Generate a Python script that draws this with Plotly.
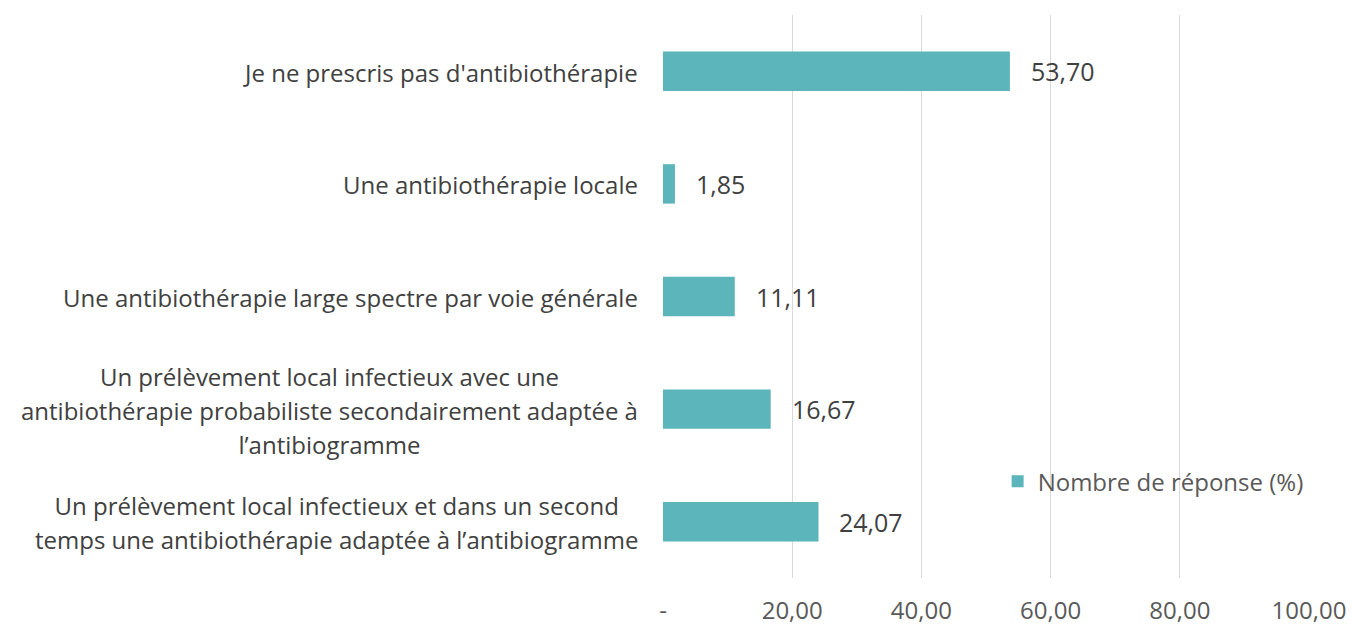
import plotly.graph_objects as go

categories = [
    "Je ne prescris pas d'antibiothérapie",
    "Une antibiothérapie locale",
    "Une antibiothérapie large spectre par voie générale",
    "Un prélèvement local infectieux avec une<br>antibiothérapie probabiliste secondairement adaptée à<br>l’antibiogramme",
    "Un prélèvement local infectieux et dans un second<br>temps une antibiothérapie adaptée à l’antibiogramme",
]
values = [53.70, 1.85, 11.11, 16.67, 24.07]
series_name = "Nombre de réponse (%)"
tick_vals = [0, 20, 40, 60, 80, 100]
tick_text = ["-", "20,00", "40,00", "60,00", "80,00", "100,00"]

FONT = "Open Sans"
BAR = "#5BB5BA"
TXT = "#404040"
TICK = "#595959"

fig = go.Figure()
fig.add_trace(go.Bar(
    x=values, y=list(range(len(categories))), orientation="h",
    marker=dict(color=BAR, line=dict(width=0)),
    width=0.35, name=series_name, showlegend=True,
))

annotations = []
for i, (c, v) in enumerate(zip(categories, values)):
    lines = c.split("<br>")
    txt = "<br>".join(f"<span style='font-size:24px'>{l}</span>" for l in lines)
    annotations.append(dict(
        x=0, xref="paper", y=i, yref="y", text=txt, showarrow=False,
        xanchor="right", yanchor="middle", align="center", xshift=-23, yshift=-1,
        font=dict(family=FONT, size=26, color=TXT),
    ))
    annotations.append(dict(
        x=v, xref="x", y=i, yref="y", text=f"{v:.2f}".replace(".", ","),
        showarrow=False, xanchor="left", yanchor="middle", xshift=19,
        font=dict(family=FONT, size=25, color=TXT),
    ))

fig.update_layout(
    width=1363, height=624,
    margin=dict(l=655, r=62, t=7, b=54, autoexpand=False),
    paper_bgcolor="white", plot_bgcolor="white",
    font=dict(family=FONT, size=24, color=TICK),
    xaxis=dict(range=[0, 100], tickvals=tick_vals, ticktext=tick_text,
               showgrid=True, gridcolor="#D9D9D9", gridwidth=1,
               zeroline=False, showline=False, ticks="", automargin=False,
               ticklabelstandoff=16, tickfont=dict(size=24, color=TICK)),
    yaxis=dict(range=[len(categories) - 0.5, -0.5], showticklabels=False,
               showgrid=False, zeroline=False, showline=False, ticks="",
               automargin=False),
    legend=dict(x=0.518, y=0.171, xanchor="left", yanchor="middle",
                bgcolor="rgba(0,0,0,0)", font=dict(size=24, color=TICK)),
    annotations=annotations,
    bargap=0.65,
)

fig.write_html("out.html")
